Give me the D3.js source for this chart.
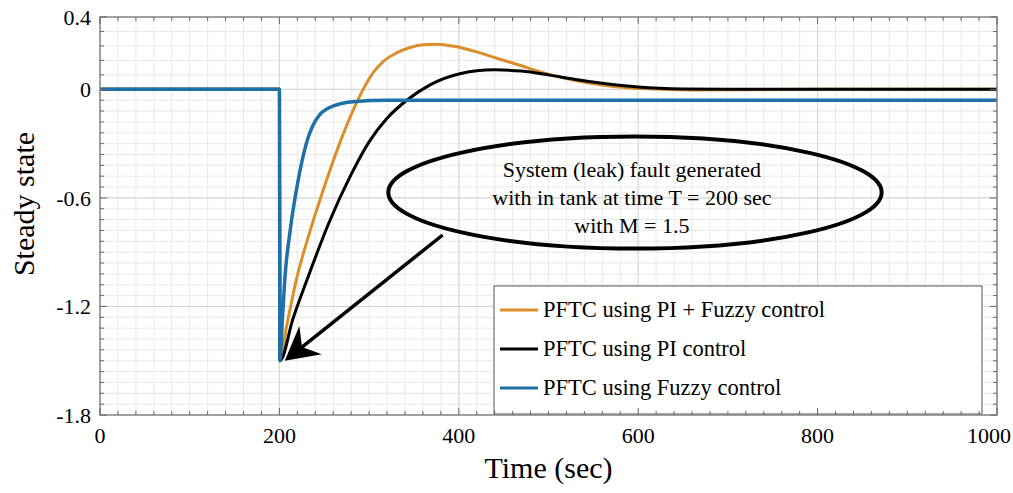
<!DOCTYPE html>
<html>
<head>
<meta charset="utf-8">
<script src="https://cdn.jsdelivr.net/npm/d3@7"></script>
<style>
  body { margin: 0; background: #fff; }
  text { font-family: 'Liberation Serif', 'Times New Roman', Times, 'DejaVu Serif', serif; }
</style>
</head>
<body>
<div class="canvas"></div>
<script>
// tick labels
const xTicks = [0, 200, 400, 600, 800, 1000];
const yTicks = [0.4, 0, -0.6, -1.2, -1.8];

// series, [time, value]
const seriesNames = ['PFTC using PI + Fuzzy control', 'PFTC using PI control', 'PFTC using Fuzzy control'];
const piFuzzy = [
  [0, 0], [200, 0], [200.6, -1.5], [208, -1.31], [219, -1.05], [235, -0.77], [250, -0.54],
  [264, -0.34], [275, -0.2], [285, -0.085], [295, 0.015], [305, 0.095], [316, 0.155],
  [330, 0.2], [345, 0.23], [360, 0.246], [375, 0.25], [395, 0.238], [420, 0.207],
  [445, 0.168], [468, 0.133], [490, 0.098], [515, 0.065], [545, 0.035], [575, 0.015],
  [610, 0.003], [660, -0.003], [720, -0.002], [800, 0], [1000, 0]
];
const piOnly = [
  [0, 0], [200, 0], [200.6, -1.5], [215, -1.27], [231, -1.05], [255, -0.74], [280, -0.47],
  [300, -0.29], [320, -0.16], [342, -0.06], [368, 0.025], [400, 0.085], [440, 0.108],
  [470, 0.101], [500, 0.08], [530, 0.055], [560, 0.034], [600, 0.013], [650, 0.002],
  [700, 0], [1000, 0]
];
const fuzzyOnly = [
  [0, 0], [200, 0], [200.6, -1.5], [203, -1.3], [206, -1.05], [212, -0.78], [221, -0.5],
  [230, -0.3], [245, -0.14], [264, -0.085], [282, -0.068], [320, -0.06], [1000, -0.06]
];
const seriesColors = ['#db8e2a', '#000000', '#1f6fa8'];

const noteLines = ['System (leak) fault generated', 'with in tank at time T = 200 sec', 'with M = 1.5'];

const W = 1013, H = 493;
const margin = { top: 17, right: 16, bottom: 78, left: 100 };
const pw = W - margin.left - margin.right;
const ph = H - margin.top - margin.bottom;

const svg = d3.select('.canvas').append('svg')
  .attr('width', W).attr('height', H);
const g = svg.append('g').attr('transform', `translate(${margin.left},${margin.top})`);

const x = d3.scaleLinear().domain([0, 1000]).range([0, pw]);
const y = d3.scaleLinear().domain([-1.8, 0.4]).range([ph, 0]);

const xMinor = d3.range(0, 1001, 20);
const yMinor = d3.range(0, 6).map(i => +(0.4 - i * 0.08).toFixed(2))
  .concat(d3.range(1, 31).map(i => +(-i * 0.06).toFixed(2)));

// grid
const grid = g.append('g');
grid.selectAll('.vmin').data(xMinor).join('line')
  .attr('x1', d => x(d)).attr('x2', d => x(d)).attr('y1', 0).attr('y2', ph)
  .attr('stroke', '#e9e9e9').attr('stroke-width', 1);
grid.selectAll('.hmin').data(yMinor).join('line')
  .attr('y1', d => y(d)).attr('y2', d => y(d)).attr('x1', 0).attr('x2', pw)
  .attr('stroke', '#e9e9e9').attr('stroke-width', 1);
grid.selectAll('.vmaj').data(xTicks).join('line')
  .attr('x1', d => x(d)).attr('x2', d => x(d)).attr('y1', 0).attr('y2', ph)
  .attr('stroke', '#d4d4d4').attr('stroke-width', 1);
grid.selectAll('.hmaj').data(yTicks).join('line')
  .attr('y1', d => y(d)).attr('y2', d => y(d)).attr('x1', 0).attr('x2', pw)
  .attr('stroke', '#d4d4d4').attr('stroke-width', 1);

// curves
svg.append('clipPath').attr('id', 'clip').append('rect').attr('width', pw).attr('height', ph);
const line = d3.line().x(d => x(d[0])).y(d => y(d[1])).curve(d3.curveMonotoneX);
const curves = g.append('g').attr('clip-path', 'url(#clip)');
[piFuzzy, piOnly, fuzzyOnly].forEach((s, i) => {
  curves.append('path')
    .attr('d', line(s))
    .attr('fill', 'none')
    .attr('stroke', seriesColors[i])
    .attr('stroke-width', i === 2 ? 3.5 : 3)
    .attr('stroke-linejoin', 'round');
});

// annotation ellipse + arrow
const note = g.append('g');
const ec = [596.4, -0.57];
note.append('ellipse')
  .attr('cx', x(ec[0])).attr('cy', y(ec[1]))
  .attr('rx', x(275) - x(0)).attr('ry', y(0) - y(0.31))
  .attr('fill', 'none').attr('stroke', '#000').attr('stroke-width', 4);
note.selectAll('text').data(noteLines).join('text')
  .attr('x', x(593))
  .attr('y', (d, i) => y(ec[1]) - 15 + i * 28)
  .attr('text-anchor', 'middle')
  .attr('font-size', 22)
  .text(d => d);

const tail = [x(382), y(-0.805)];
const tip = [x(206), y(-1.5)];
const dx = tail[0] - tip[0], dy = tail[1] - tip[1];
const len = Math.hypot(dx, dy);
const ux = dx / len, uy = dy / len, nx = -uy, ny = ux;
const headLen = 33, headHalf = 18, notch = 22;
note.append('line')
  .attr('x1', tail[0]).attr('y1', tail[1])
  .attr('x2', tip[0] + ux * notch).attr('y2', tip[1] + uy * notch)
  .attr('stroke', '#000').attr('stroke-width', 3.5);
note.append('path')
  .attr('d', d3.line()([
    tip,
    [tip[0] + ux * headLen + nx * headHalf, tip[1] + uy * headLen + ny * headHalf],
    [tip[0] + ux * notch, tip[1] + uy * notch],
    [tip[0] + ux * headLen - nx * headHalf, tip[1] + uy * headLen - ny * headHalf]
  ]) + 'Z')
  .attr('fill', '#000');

// legend
const legW = 488, legH = 128;
const leg = g.append('g').attr('transform', `translate(${pw - 15 - legW},${ph - 1 - legH})`);
leg.append('rect').attr('width', legW).attr('height', legH)
  .attr('fill', '#fff').attr('stroke', '#555').attr('stroke-width', 1);
const rows = leg.selectAll('.row').data(seriesNames).join('g')
  .attr('transform', (d, i) => `translate(0,${24 + i * 39})`);
rows.append('line').attr('x1', 6).attr('x2', 44).attr('y1', 0).attr('y2', 0)
  .attr('stroke', (d, i) => seriesColors[i]).attr('stroke-width', 3);
rows.append('text').attr('x', 49).attr('y', 0).attr('dy', '0.33em')
  .attr('font-size', 22.5).text(d => d);

// box + ticks on all sides
const box = g.append('g');
box.append('rect').attr('width', pw).attr('height', ph)
  .attr('fill', 'none').attr('stroke', '#8a8a8a').attr('stroke-width', 1.5);
const tickCol = '#666';
[[0, 1], [ph, -1]].forEach(([yy, dir]) => {
  box.append('g').selectAll('line').data(xMinor).join('line')
    .attr('x1', d => x(d)).attr('x2', d => x(d))
    .attr('y1', yy).attr('y2', d => yy + dir * (xTicks.includes(d) ? 7 : 4))
    .attr('stroke', tickCol).attr('stroke-width', 1);
});
[[0, 1], [pw, -1]].forEach(([xx, dir]) => {
  box.append('g').selectAll('line').data(yMinor).join('line')
    .attr('y1', d => y(d)).attr('y2', d => y(d))
    .attr('x1', xx).attr('x2', d => xx + dir * (yTicks.includes(d) ? 7 : 4))
    .attr('stroke', tickCol).attr('stroke-width', 1);
});

// tick labels
g.append('g').selectAll('text').data(xTicks).join('text')
  .attr('x', d => Math.min(x(d), pw - 8)).attr('y', ph + 28)
  .attr('text-anchor', 'middle').attr('font-size', 22)
  .text(d => d);
g.append('g').selectAll('text').data(yTicks).join('text')
  .attr('x', -9).attr('y', d => y(d)).attr('dy', '0.35em')
  .attr('text-anchor', 'end').attr('font-size', 22)
  .text(d => d);

// axis titles
g.append('text').attr('x', pw / 2).attr('y', ph + 63)
  .attr('text-anchor', 'middle').attr('font-size', 30).text('Time (sec)');
g.append('text')
  .attr('transform', `translate(${-66},${ph / 2 - 12}) rotate(-90)`)
  .attr('text-anchor', 'middle').attr('font-size', 30).text('Steady state');
</script>
</body>
</html>
